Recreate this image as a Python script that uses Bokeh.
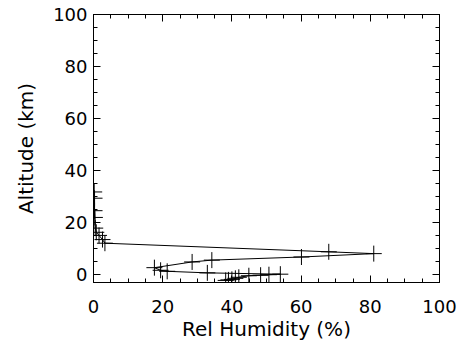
from bokeh.plotting import figure
from bokeh.models import Range1d, LinearAxis, Label, SingleIntervalTicker, CustomJSTickFormatter
from bokeh.embed import file_html
from bokeh.resources import INLINE

# Relative humidity profile (%), altitude (km)
rel_humidity = [0.2, 0.3, 0.3, 0.4, 0.5, 0.8, 1.6, 2.6, 3.3, 68.0, 81.0, 60.1,
                34.2, 28.5, 17.6, 19.4, 21.3, 32.9, 54.0, 50.7, 48.3, 44.9,
                42.0, 41.0, 40.0, 39.0, 38.2]
altitude = [31.8, 29.4, 24.6, 22.0, 17.9, 16.3, 15.1, 13.5, 12.1, 8.8, 8.1, 6.8,
            5.6, 4.9, 2.7, 1.7, 1.3, 0.7, 0.2, 0.0, -0.2, -0.4,
            -1.0, -1.4, -1.8, -2.0, -2.2]

FONT = "DejaVu Sans"

p = figure(width=461, height=343, output_backend="svg", toolbar_location=None,
           x_range=Range1d(0, 100), y_range=Range1d(-3, 100),
           min_border_left=93, min_border_right=22, min_border_top=14, min_border_bottom=59)
p.background_fill_color = "white"
p.border_fill_color = "white"
p.outline_line_color = "black"
p.outline_line_width = 1
p.xgrid.visible = False
p.ygrid.visible = False

p.line(rel_humidity, altitude, line_color="black", line_width=1)
p.scatter(rel_humidity, altitude, marker="cross", size=16, line_color="black", line_width=1)

def style(ax, labels=True):
    ax.ticker = SingleIntervalTicker(interval=20, num_minor_ticks=4)
    ax.axis_line_color = "black"
    ax.major_tick_line_color = "black"
    ax.minor_tick_line_color = "black"
    ax.major_tick_in = 7
    ax.major_tick_out = 0
    ax.minor_tick_in = 4
    ax.minor_tick_out = 0
    ax.major_label_text_font = FONT
    ax.major_label_text_font_size = "18px"
    ax.major_label_text_color = "black"
    ax.axis_label_text_font = FONT
    ax.axis_label_text_font_size = "20px"
    ax.axis_label_text_font_style = "normal"
    ax.axis_label_text_color = "black"
    if not labels:
        ax.formatter = CustomJSTickFormatter(code="return ''")
        ax.major_label_text_font_size = "0px"
        ax.major_label_standoff = 0

style(p.xaxis[0])
style(p.yaxis[0])
p.xaxis[0].axis_label = "Rel Humidity (%)"
p.yaxis[0].axis_label = "Altitude (km)"
p.xaxis[0].major_label_standoff = 17
p.yaxis[0].major_label_standoff = 6
p.xaxis[0].axis_label_standoff = 1
p.yaxis[0].axis_label_standoff = 12

right = LinearAxis()
style(right, labels=False)
p.add_layout(right, "right")
top = LinearAxis()
style(top, labels=False)
p.add_layout(top, "above")

p.add_layout(Label(x=446, y=320, x_units="canvas", y_units="canvas", text="G",
                   text_baseline="top", level="overlay",
                   text_font=FONT, text_font_size="18px", text_color="black"))

open("out.html", "w").write(file_html(p, INLINE))
